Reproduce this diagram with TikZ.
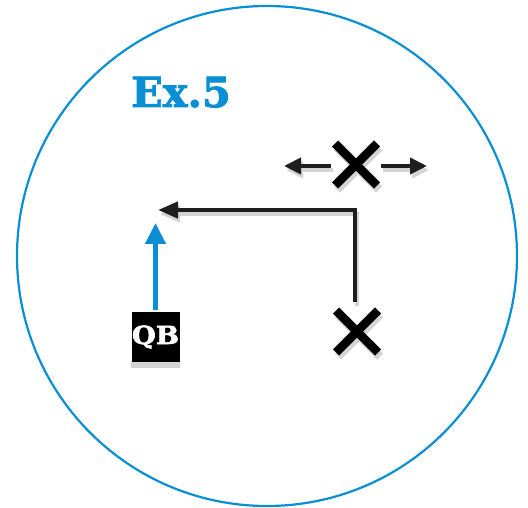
\documentclass[tikz,border=0pt]{standalone}
\usepackage{fontspec}
\newfontfamily\slab[BoldFeatures={FakeBold=2.2}]{DejaVu Serif}
\usetikzlibrary{arrows.meta}
\definecolor{playblue}{HTML}{0A8FD4}
\definecolor{shadowgray}{HTML}{D4D4D4}
\definecolor{ink}{HTML}{1E1E1E}
\begin{document}
\begin{tikzpicture}[x=1pt,y=-1pt,
  route/.style={line width=4.5pt,-{Triangle[length=20pt,width=16pt]}},
  motion/.style={line width=4pt,-{Triangle[length=17pt,width=16pt]}},
  qbroute/.style={line width=4.5pt,draw=playblue,-{Triangle[length=21pt,width=20pt]}},
  defender/.style={line width=8.5pt},
  qbbox/.style={fill=black,minimum width=48pt,minimum height=50pt,inner sep=0pt,text=white,font=\slab\bfseries\fontsize{25}{25}\selectfont}]
\useasboundingbox (0,0) rectangle (528,508);
% field circle
\draw[playblue,line width=2.2pt] (267,256) circle (250);
% title
\node[text=playblue,font=\slab\bfseries\fontsize{41.5}{41.5}\selectfont,anchor=base west,inner sep=0pt] (title) at (131,107) {Ex.5};
% player spots and route points
\coordinate (xtop) at (356,164.5);
\coordinate (xbot) at (357,331.5);
\coordinate (lsl) at (331,166);
\coordinate (lsr) at (381,166);
\coordinate (lel) at (284,166);
\coordinate (ler) at (427,166);
\coordinate (rstart) at (355,302);
\coordinate (rcorner) at (355,210);
\coordinate (rend) at (158,210);
\coordinate (qbtop) at (155.5,310);
\coordinate (qbend) at (155.5,223);
% drop shadows
\begin{scope}[transform canvas={xshift=2pt,yshift=-4pt}]
  \draw[motion,shadowgray] (lsl) -- (lel);
  \draw[motion,shadowgray] (lsr) -- (ler);
  \draw[route,shadowgray] (rstart) -- (rcorner) -- (rend);
  \foreach \p in {xtop,xbot}{
    \draw[defender,shadowgray] ([shift={(-21,-21)}]\p) -- ([shift={(21,21)}]\p);
    \draw[defender,shadowgray] ([shift={(-21,21)}]\p) -- ([shift={(21,-21)}]\p);
  }
\end{scope}
\fill[shadowgray] (131,362) rectangle (180,368);
% motion arrows
\draw[motion,ink] (lsl) -- (lel);
\draw[motion,ink] (lsr) -- (ler);
% receiver route
\draw[route,ink] (rstart) -- (rcorner) -- (rend);
% defenders
\foreach \p in {xtop,xbot}{
  \draw[defender,black] ([shift={(-21,-21)}]\p) -- ([shift={(21,21)}]\p);
  \draw[defender,black] ([shift={(-21,21)}]\p) -- ([shift={(21,-21)}]\p);
}
% quarterback
\node[qbbox] (qb) at (155.5,337) {\scalebox{1.1}[1]{QB}};
\draw[qbroute] (qbtop) -- (qbend);
\end{tikzpicture}
\end{document}
